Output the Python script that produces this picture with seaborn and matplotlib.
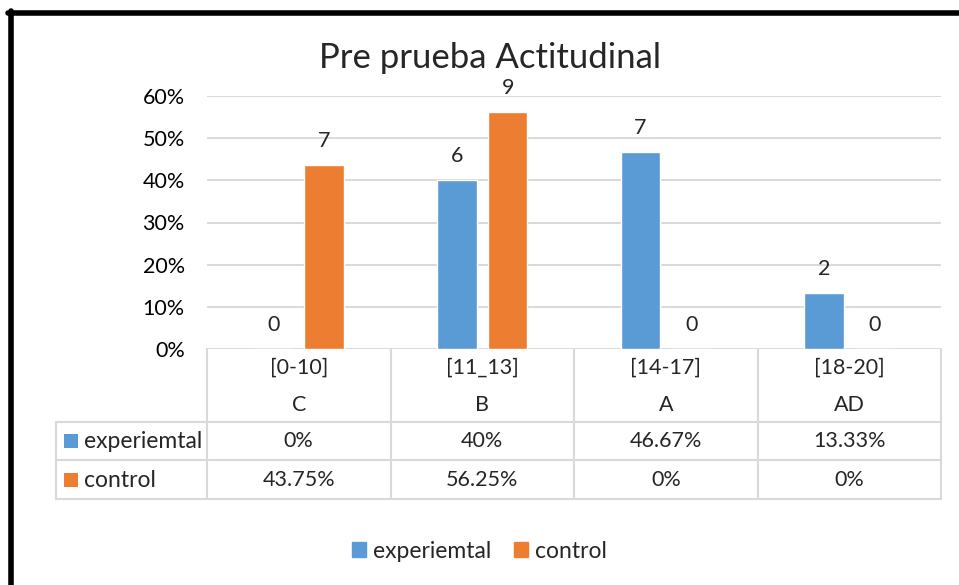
import pandas as pd
import seaborn as sns
import matplotlib.pyplot as plt
from matplotlib.lines import Line2D
from matplotlib.patches import Patch
from matplotlib.ticker import PercentFormatter

# data
rangos = ["[0-10]", "[11_13]", "[14-17]", "[18-20]"]
letras = ["C", "B", "A", "AD"]
series = ["experiemtal", "control"]
experimental = [0, 40, 46.67, 13.33]
control = [43.75, 56.25, 0, 0]
n_experimental = [0, 6, 7, 2]
n_control = [7, 9, 0, 0]
tabla_exp = ["0%", "40%", "46.67%", "13.33%"]
tabla_ctrl = ["43.75%", "56.25%", "0%", "0%"]
colores = ["#5B9BD5", "#ED7D31"]

df = pd.DataFrame({
    "rango": rangos * 2,
    "serie": [series[0]] * 4 + [series[1]] * 4,
    "valor": [v / 100 for v in experimental + control],
})

sns.set_style("white")
plt.rcParams["font.family"] = ["Lato", "DejaVu Sans"]
fs = 15.5
fs_txt = 16.5  # lowercase words run a bit wider in the original font

fig = plt.figure(figsize=(9.59, 5.85), dpi=100)
ax = fig.add_axes([207 / 959, 1 - 349 / 585, 734 / 959, 253 / 585])

sns.barplot(data=df, x="rango", y="valor", hue="serie", palette=colores, saturation=1,
            width=0.554, gap=0.22, errorbar=None, legend=False, ax=ax)

ax.set_xlim(-0.5, 3.5)
ax.set_ylim(0, 0.6)
ax.set_yticks([0, 0.1, 0.2, 0.3, 0.4, 0.5, 0.6])
ax.yaxis.set_major_formatter(PercentFormatter(1.0, decimals=0))
ax.grid(axis="y", color="#d9d9d9", linewidth=1.4)
ax.set_axisbelow(True)
for s in ax.spines.values():
    s.set_visible(False)
ax.tick_params(axis="y", length=0, pad=16, labelsize=fs, labelcolor="black")
ax.tick_params(axis="x", length=0, labelbottom=False)
ax.set_xlabel("")
ax.set_ylabel("")

# count labels on bars
for cont, cuentas in zip(ax.containers, [n_experimental, n_control]):
    ax.bar_label(cont, labels=[str(c) for c in cuentas], padding=10, fontsize=fs)

# data table under the plot
gris = "#d9d9d9"
tr = ax.get_xaxis_transform()
y_hdr, y_r1, y_r2 = -0.2885, -0.4407, -0.593
x_left = -0.5 - (207 - 56) / 183.5
for i in range(4):
    ax.text(i, -0.075, rangos[i], transform=tr, ha="center", va="center", fontsize=fs)
    ax.text(i, -0.221, letras[i], transform=tr, ha="center", va="center", fontsize=fs)
    ax.text(i, -0.364, tabla_exp[i], transform=tr, ha="center", va="center", fontsize=fs)
    ax.text(i, -0.518, tabla_ctrl[i], transform=tr, ha="center", va="center", fontsize=fs)
for xv in [-0.5, 0.5, 1.5, 2.5, 3.5]:
    ax.add_line(Line2D([xv, xv], [0, y_r2], transform=tr, color=gris, lw=1.5, clip_on=False))
for yv in [y_hdr, y_r1, y_r2]:
    ax.add_line(Line2D([x_left, 3.5], [yv, yv], transform=tr, color=gris, lw=1.5, clip_on=False))
ax.add_line(Line2D([x_left, x_left], [y_hdr, y_r2], transform=tr, color=gris, lw=1.5, clip_on=False))
for nombre, col, yv in zip(series, colores, [-0.364, -0.518]):
    ax.scatter([x_left + 0.08], [yv], transform=tr, marker="s", s=100, color=col,
               linewidths=0, clip_on=False)
    ax.text(x_left + 0.15, yv, nombre, transform=tr, ha="left", va="center", fontsize=fs_txt)

fig.text(490 / 959, 1 - 58 / 585, "Pre prueba Actitudinal", ha="center", va="center", fontsize=25)

handles = [Patch(color=c, label=s) for s, c in zip(series, colores)]
fig.legend(handles=handles, loc="center", bbox_to_anchor=(0.5, 1 - 551 / 585), ncol=2,
           frameon=False, fontsize=fs_txt, handlelength=0.6, handleheight=0.6,
           handletextpad=0.3, columnspacing=1.0)

# black frame lines of the screenshot
fig.add_artist(Line2D([8 / 959, 1], [1 - 13 / 585, 1 - 13 / 585], transform=fig.transFigure, color="black", lw=4))
fig.add_artist(Line2D([10.5 / 959, 10.5 / 959], [0, 1 - 11 / 585], transform=fig.transFigure, color="black", lw=4))

fig.savefig("out.png", dpi=100)
